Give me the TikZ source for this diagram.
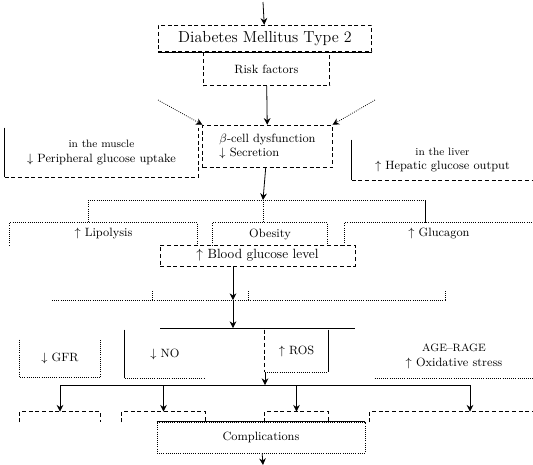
\documentclass[tikz,border=0pt]{standalone}
\usetikzlibrary{arrows.meta}
\begin{document}
\begin{tikzpicture}
      [x=0.75pt, y=-0.75pt, >={Stealth[length=5pt, width=5pt]}, line width=0.6pt,
       block/.style={draw, densely dashed, align=center, inner sep=2pt, font=\small},
       openblock/.style={align=center, inner sep=2pt, font=\small}]
      \useasboundingbox (0,0) rectangle (533,465);

      % top of the chart
      \coordinate (top) at (263,2);
      \node[block, minimum width=160pt, minimum height=20pt, font=\large] (dm) at (265,38.5) {Diabetes Mellitus Type 2};
      \node[block, minimum width=95pt, minimum height=25pt] (risk) at (266.5,69) {Risk factors};
      \draw (dm.south west) -- (dm.south east);
      \draw[->] (top) -- (dm);

      % first level
      \node[block, minimum width=97pt, minimum height=32pt, align=left] (mid) at (267.5,146.5)
      {$\beta$-cell dysfunction\\$\downarrow$ Secretion};
      \node[openblock, minimum width=144.75pt, minimum height=36.75pt] (lbox) at (101.5,152.5)
      {{\footnotesize in the muscle}\\$\downarrow$ Peripheral glucose uptake};
      \node[openblock, minimum width=135.75pt, minimum height=30pt] (rbox) at (442.5,160)
      {{\footnotesize in the liver}\\$\uparrow$ Hepatic glucose output};
      \draw (lbox.north west) -- (lbox.south west);
      \draw[densely dashed] (lbox.south west) -- (lbox.south east) -- (lbox.north east);
      \draw (rbox.north west) -- (rbox.south west);
      \draw[densely dashed] (rbox.south west) -- (rbox.south east);

      \coordinate (dl) at (158,100);
      \coordinate (dr) at (375,100);
      \draw[->] (risk) -- (mid);
      \draw[->, densely dotted] (dl) -- (mid.north west);
      \draw[->, densely dotted] (dr) -- (mid.north east);

      % second level
      \coordinate (b1l) at (88,200);
      \coordinate (b1m) at (263,200);
      \coordinate (b1r) at (425,200);
      \node[openblock, minimum width=140pt, minimum height=16.5pt] (lip) at (103.5,234) {$\uparrow$ Lipolysis};
      \node[openblock, minimum width=85.5pt, minimum height=16.5pt] (ob) at (270,234) {Obesity};
      \node[openblock, minimum width=141pt, minimum height=16.5pt] (glc) at (439,234) {$\uparrow$ Glucagon};
      \foreach \n in {lip, ob, glc}
        \draw[densely dotted] (\n.south west) |- (\n.north east) -- (\n.south east);
      \draw[->] (mid) -- (b1m);
      \draw[densely dotted] (b1l) -- (b1r);
      \draw[densely dotted] (b1l) -- (b1l |- lip.north);
      \draw[densely dotted] (b1m) -- (b1m |- ob.north);
      \draw (b1r) -- (b1r |- glc.north);

      \node[block, minimum width=146.25pt, minimum height=15.75pt, font=\normalsize] (bg) at (257.5,255.5)
      {$\uparrow$ Blood glucose level};

      % third level
      \coordinate (b2l) at (52,300);
      \coordinate (b2m) at (233,300);
      \coordinate (b2r) at (445,300);
      \coordinate (b3l) at (160,328);
      \coordinate (b3m) at (233,328);
      \coordinate (b3r) at (355,328);
      \draw[->] (bg.south -| b2m) -- (b2m);
      \draw[densely dotted] (b2l) -- (b2r);
      \foreach \t in {152, 248, 445}
        \draw[densely dotted] (\t,300) -- (\t,290);
      \draw[->] (b2m) -- (b3m);
      \draw (b3l) -- (b3r);

      \node[openblock, minimum width=60pt, minimum height=27.75pt] (gfr) at (60,358.5) {$\downarrow$ GFR};
      \node[openblock, minimum width=60pt, minimum height=36pt] (no) at (165,354) {$\downarrow$ NO};
      \node[openblock, minimum width=47.25pt, minimum height=31.5pt] (ros) at (296.5,351) {$\uparrow$ ROS};
      \node[openblock, minimum width=118.5pt, minimum height=32.25pt] (ox) at (454,356.5)
      {{\footnotesize AGE--RAGE}\\$\uparrow$ Oxidative stress};
      \draw[densely dotted] (gfr.north west) -- (gfr.south west) -- (gfr.south east) -- (gfr.north east);
      \draw (no.north west) -- (no.south west);
      \draw[densely dotted] (no.south west) -- (no.south east);
      \draw[densely dashed] (ros.north west) -- (ros.south west);
      \draw[densely dotted] (ros.south west) -- (ros.south east);
      \draw (ros.north east) -- (ros.south east);
      \draw[densely dotted] (ox.south west) -- (ox.south east);

      % fourth level
      \coordinate (b4l) at (60,385);
      \coordinate (b4m) at (265,385);
      \coordinate (b4r) at (470,385);
      \draw[->] (ros.south -| b4m) -- (b4m);
      \draw (b4l) -- (b4r);

      \node[minimum width=60pt, minimum height=7.5pt, inner sep=0pt] (oa) at (60,417) {};
      \node[minimum width=62.25pt, minimum height=7.5pt, inner sep=0pt] (obx) at (163.5,417) {};
      \node[minimum width=47.25pt, minimum height=7.5pt, inner sep=0pt] (oc) at (296.5,417) {};
      \node[minimum width=122.25pt, minimum height=7.5pt, inner sep=0pt] (od) at (451.5,417) {};
      \foreach \n in {oa, obx, oc, od}
        \draw[densely dashed] (\n.south west) |- (\n.north east) -- (\n.south east);
      \draw[->] (b4l) -- (oa.north);
      \draw[->] (b4l -| obx) -- (obx.north);
      \draw[->] (b4l -| oc) -- (oc.north);
      \draw[->] (b4r) -- (b4r |- od.north);

      \node[draw, densely dotted, fill=white, minimum width=156pt, minimum height=23.25pt, font=\small] (comp) at (261,437.5)
      {Complications};
      \draw (comp.north west) -- (comp.north east);
      \coordinate (bot) at (263,465);
      \draw[->] (comp) -- (bot);
    \end{tikzpicture}
\end{document}
